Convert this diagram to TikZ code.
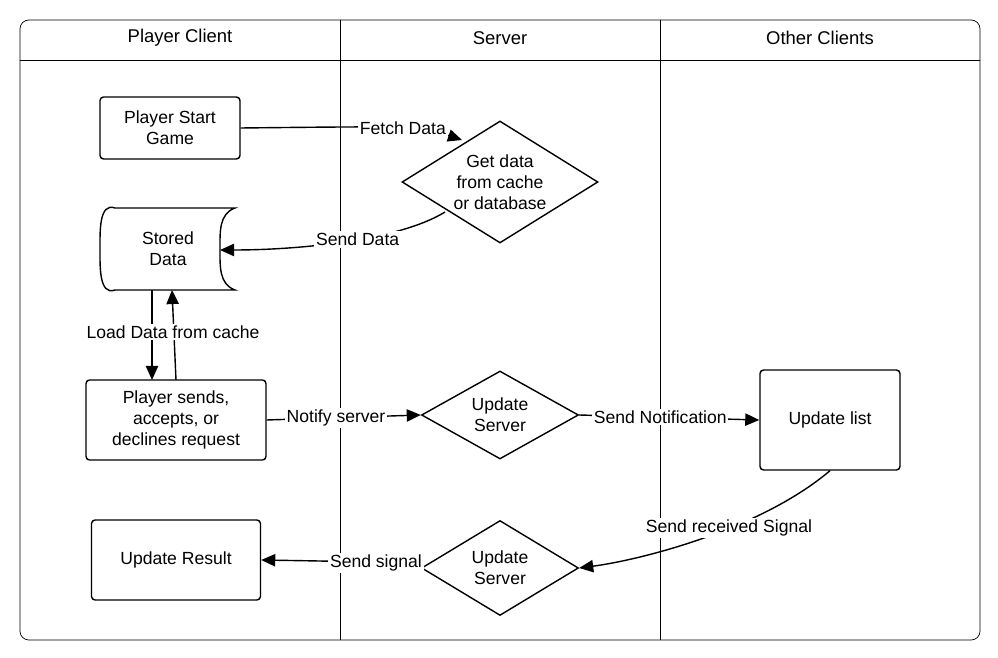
\documentclass[tikz,border=0pt]{standalone}
\usepackage{fontspec}
\setmainfont{Liberation Sans}
\usetikzlibrary{positioning, shapes.geometric, arrows.meta}
\tikzset{
  box/.style={draw, thick, rounded corners=2pt, align=center, font=\fontsize{10}{12}\selectfont},
  dia/.style={draw, thick, diamond, aspect=1.6, inner sep=0pt, align=center, font=\fontsize{10}{12}\selectfont},
  lbl/.style={fill=white, inner sep=1pt, font=\fontsize{10}{12}\selectfont},
  head/.style={font=\fontsize{10.5}{12}\selectfont},
  flow/.style={thick, -{Triangle[length=8pt,width=7pt]}}
}
\begin{document}
\begin{tikzpicture}[x=0.02cm, y=-0.02cm]
      \useasboundingbox (0,0) rectangle (998,658);
      % lanes
      \draw[rounded corners=5pt] (20,20) rectangle (980,640);
      \draw (20,60) -- (980,60);
      \draw (340,20) -- (340,640);
      \draw (660,20) -- (660,640);
      \node[head] (hplayer) at (180,38) {Player Client};
      \node[head] (hserver) at (500,38) {Server};
      \node[head] (hother) at (820,38) {Other Clients};

      % nodes
      \node[box, minimum width=2.8cm, minimum height=1.24cm] (start) at (170,128) {Player Start\\Game};
      \node[dia, minimum width=3.92cm, minimum height=2.44cm] (getdata) at (500,182) {Get data\\from cache\\or database};
      \node[box, draw=none, minimum width=2.7cm, minimum height=1.64cm] (stored) at (168,249) {Stored\\Data};
      \draw[thick] (115,208) -- (235,208) to[out=200,in=90] (220,249) to[out=-90,in=160] (235,290) -- (115,290)
        to[out=200,in=-90] (100,249) to[out=90,in=160] cycle;
      \node[box, minimum width=3.6cm, minimum height=1.6cm] (sends) at (176,420) {Player sends,\\accepts, or\\declines request};
      \node[dia, minimum width=3.14cm, minimum height=1.76cm] (update1) at (500,415) {Update\\Server};
      \node[box, minimum width=2.8cm, minimum height=2cm] (list) at (830,420) {Update list};
      \node[dia, minimum width=3.14cm, minimum height=1.9cm] (update2) at (500,568) {Update\\Server};
      \node[box, minimum width=3.38cm, minimum height=1.6cm] (result) at (176,560) {Update Result};
      \coordinate (storedin) at (220,250);

      % connectors
      \draw[flow] (start.east) .. controls (420,126) .. (462,140) node[lbl, pos=0.5] {Fetch Data};
      \draw[flow] (445,212) .. controls (400,240) and (300,250) .. (storedin) node[lbl, pos=0.45] {Send Data};
      \draw[flow] (152,290) -- (152,380);
      \draw[flow] (176,380) -- (172,290);
      \node[lbl] (load) at (173,332) {Load Data from cache};
      \draw[flow] (sends.east) -- (update1.west) node[lbl, pos=0.45] {Notify server};
      \draw[flow] (update1.east) -- (list.west) node[lbl, pos=0.45] {Send Notification};
      \draw[flow] (list.south) .. controls (760,530) and (640,560) .. (update2.east) node[lbl, pos=0.4] {Send received Signal};
      \draw[flow] (update2.west) .. controls (380,562) .. (result.east) node[lbl, pos=0.45] {Send signal};
\end{tikzpicture}
\end{document}
